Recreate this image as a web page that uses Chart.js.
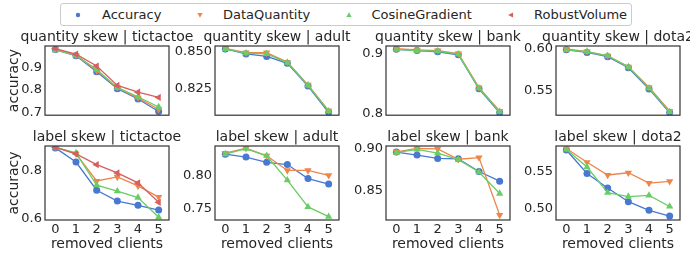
<!DOCTYPE html>
<html><head><meta charset="utf-8">
<script src="https://cdn.jsdelivr.net/npm/chart.js@4.4.1/dist/chart.umd.min.js"></script>
<style>
html,body{margin:0;padding:0;background:#fff;}
body{width:690px;height:253px;position:relative;overflow:hidden;font-family:"DejaVu Sans",sans-serif;}
canvas{position:absolute;}
#legend{position:absolute;left:60px;top:3px;width:572px;height:23px;border:1px solid #cccccc;border-radius:3px;box-sizing:border-box;}
.lt{position:absolute;font-size:13px;line-height:15px;color:#262626;white-space:nowrap;top:7px;}
#lsvg{position:absolute;left:0;top:0;}
</style></head>
<body>
<div id="legend"></div>
<svg id="lsvg" width="690" height="30"></svg>
<script>
// ---------------- data ----------------
const removedClients = ['0','1','2','3','4','5'];
const seriesNames = ['Accuracy','DataQuantity','CosineGradient','RobustVolume'];
const seriesColors = ['#4878d0','#ee854a','#6acc64','#d65f5f'];

// quantity skew
const qTicAccuracy       = [0.978,0.950,0.880,0.805,0.760,0.705];
const qTicDataQuantity   = [0.978,0.952,0.885,0.810,0.765,0.715];
const qTicCosineGradient = [0.975,0.952,0.890,0.810,0.770,0.725];
const qTicRobustVolume   = [0.982,0.957,0.905,0.820,0.790,0.767];
const qAdultAccuracy       = [0.8515,0.8482,0.8465,0.8420,0.8270,0.8095];
const qAdultDataQuantity   = [0.8518,0.8490,0.8490,0.8428,0.8278,0.8108];
const qAdultCosineGradient = [0.8515,0.8487,0.8482,0.8425,0.8275,0.8105];
const qBankAccuracy       = [0.907,0.905,0.903,0.898,0.841,0.801];
const qBankDataQuantity   = [0.908,0.906,0.905,0.900,0.843,0.804];
const qBankCosineGradient = [0.907,0.905,0.904,0.899,0.842,0.803];
const qDotaAccuracy       = [0.598,0.595,0.590,0.577,0.552,0.524];
const qDotaDataQuantity   = [0.599,0.596,0.591,0.578,0.554,0.526];
const qDotaCosineGradient = [0.598,0.596,0.591,0.578,0.553,0.525];
// label skew
const lTicAccuracy       = [0.898,0.838,0.719,0.673,0.655,0.635];
const lTicDataQuantity   = [0.902,0.873,0.758,0.775,0.737,0.690];
const lTicCosineGradient = [0.900,0.877,0.740,0.715,0.688,0.605];
const lTicRobustVolume   = [0.900,0.873,0.827,0.792,0.750,0.668];
const lAdultAccuracy       = [0.8335,0.8290,0.8210,0.8175,0.7960,0.7875];
const lAdultDataQuantity   = [0.8350,0.8425,0.8310,0.8085,0.8085,0.8010];
const lAdultCosineGradient = [0.8335,0.8420,0.8310,0.7935,0.7525,0.7375];
const lBankAccuracy       = [0.8961,0.8925,0.8885,0.8880,0.8727,0.8610];
const lBankDataQuantity   = [0.8965,0.9005,0.9000,0.8875,0.8895,0.8200];
const lBankCosineGradient = [0.8955,0.8995,0.8950,0.8870,0.8720,0.8460];
const lDotaAccuracy       = [0.5796,0.5478,0.5280,0.5095,0.4978,0.4900];
const lDotaDataQuantity   = [0.5815,0.5630,0.5457,0.5487,0.5348,0.5370];
const lDotaCosineGradient = [0.5804,0.5565,0.5217,0.5165,0.5180,0.5030];

// y tick values & labels
const yTicksQTic = [0.7,0.8,0.9],   yLabelsQTic = ['0.7','0.8','0.9'];
const yTicksQAdult = [0.825,0.850], yLabelsQAdult = ['0.825','0.850'];
const yTicksQBank = [0.8,0.9],      yLabelsQBank = ['0.8','0.9'];
const yTicksQDota = [0.55,0.60],    yLabelsQDota = ['0.55','0.60'];
const yTicksLTic = [0.6,0.8],       yLabelsLTic = ['0.6','0.8'];
const yTicksLAdult = [0.75,0.80],   yLabelsLAdult = ['0.75','0.80'];
const yTicksLBank = [0.85,0.90],    yLabelsLBank = ['0.85','0.90'];
const yTicksLDota = [0.50,0.55],    yLabelsLDota = ['0.50','0.55'];

// ---------------- layout ----------------
const colLefts = [45,215,386,556];
const PW = 124, WY = 45, T = 16;
const rowTops = [46,146], rowHeights = [76,74], rowXH = [4,33];
const TXT = '#262626';
const FONT = "'DejaVu Sans'";

const panels = [
  {row:0,col:0,title:'quantity skew | tictactoe',min:0.689,max:0.993,ticks:yTicksQTic,labels:yLabelsQTic,
   data:[qTicAccuracy,qTicDataQuantity,qTicCosineGradient,qTicRobustVolume]},
  {row:0,col:1,title:'quantity skew | adult',min:0.8078,max:0.8534,ticks:yTicksQAdult,labels:yLabelsQAdult,
   data:[qAdultAccuracy,qAdultDataQuantity,qAdultCosineGradient]},
  {row:0,col:2,title:'quantity skew | bank',min:0.797,max:0.9126,ticks:yTicksQBank,labels:yLabelsQBank,
   data:[qBankAccuracy,qBankDataQuantity,qBankCosineGradient]},
  {row:0,col:3,title:'quantity skew | dota2',min:0.5211,max:0.6025,ticks:yTicksQDota,labels:yLabelsQDota,
   data:[qDotaAccuracy,qDotaDataQuantity,qDotaCosineGradient]},
  {row:1,col:0,title:'label skew | tictactoe',min:0.593,max:0.906,ticks:yTicksLTic,labels:yLabelsLTic,
   data:[lTicAccuracy,lTicDataQuantity,lTicCosineGradient,lTicRobustVolume]},
  {row:1,col:1,title:'label skew | adult',min:0.7324,max:0.846,ticks:yTicksLAdult,labels:yLabelsLAdult,
   data:[lAdultAccuracy,lAdultDataQuantity,lAdultCosineGradient]},
  {row:1,col:2,title:'label skew | bank',min:0.814,max:0.9035,ticks:yTicksLBank,labels:yLabelsLBank,
   data:[lBankAccuracy,lBankDataQuantity,lBankCosineGradient]},
  {row:1,col:3,title:'label skew | dota2',min:0.4847,max:0.585,ticks:yTicksLDota,labels:yLabelsLDota,
   data:[lDotaAccuracy,lDotaDataQuantity,lDotaCosineGradient]},
];

const pointStyles = ['circle','triangle','triangle','triangle'];
const pointRots = [0,180,0,270];
const pointRadii = [3.5,4.2,4.2,4.2];

const framePlugin = {
  id:'frame',
  afterDatasetsDraw(chart){
    const {ctx, chartArea:a} = chart;
    ctx.save();
    ctx.strokeStyle = '#333333';
    ctx.lineWidth = 1.2;
    ctx.strokeRect(a.left, a.top, a.right-a.left, a.bottom-a.top);
    ctx.restore();
  }
};

panels.forEach(p => {
  const isBottom = p.row === 1;
  const c = document.createElement('canvas');
  const W = WY*2 + PW;
  const H = T + rowHeights[p.row] + rowXH[p.row];
  c.width = W; c.height = H;
  c.style.width = W+'px'; c.style.height = H+'px';
  c.style.left = (colLefts[p.col]-WY)+'px';
  c.style.top = (rowTops[p.row]-T)+'px';
  document.body.appendChild(c);

  const datasets = p.data.map((arr,i) => ({
    label: seriesNames[i],
    data: arr,
    borderColor: seriesColors[i],
    backgroundColor: seriesColors[i],
    pointBackgroundColor: seriesColors[i],
    pointBorderColor: seriesColors[i],
    pointBorderWidth: 0,
    borderWidth: 1.3,
    pointStyle: pointStyles[i],
    rotation: pointRots[i],
    pointRadius: pointRadii[i],
    tension: 0,
    order: 3 - i,
    clip: 0
  }));

  new Chart(c, {
    type:'line',
    data:{labels: removedClients, datasets},
    plugins:[framePlugin],
    options:{
      responsive:false, animation:false, devicePixelRatio:1,
      layout:{padding:0},
      plugins:{
        legend:{display:false}, tooltip:{enabled:false},
        title:{display:true,text:p.title,color:TXT,font:{family:FONT,size:14,weight:'normal',lineHeight:1.1},padding:{top:0,bottom:0.6}}
      },
      scales:{
        x:{
          type:'category', offset:true,
          grid:{display:false,drawTicks:false}, border:{display:false},
          ticks:{display:isBottom,color:TXT,font:{family:FONT,size:13},padding:2,maxRotation:0},
          title:{display:isBottom,text:'removed clients',color:TXT,font:{family:FONT,size:14,lineHeight:1.2},padding:{top:0,bottom:0.5}},
          afterFit: s => { s.height = rowXH[p.row]; }
        },
        y:{
          type:'linear', position:'left', min:p.min, max:p.max,
          grid:{display:false,drawTicks:false}, border:{display:false},
          afterBuildTicks: s => { s.ticks = p.ticks.map(v => ({value:v})); },
          ticks:{color:TXT,font:{family:FONT,size:13},padding:3,callback:(v,i)=>p.labels[i]},
          title:{display:p.col===0,text:'accuracy',color:TXT,font:{family:FONT,size:14,lineHeight:1.2},padding:{top:6,bottom:0}},
          afterFit: s => { s.width = WY; }
        },
        y2:{
          type:'linear', position:'right', min:0, max:1,
          grid:{display:false,drawTicks:false}, border:{display:false},
          ticks:{display:false},
          afterFit: s => { s.width = WY; }
        }
      }
    }
  });
});

// ---------------- legend ----------------
const legendMarkerX = [78,200,349,511];
const legendTextX = [102,223,371.5,534];
const svg = document.getElementById('lsvg');
const ns = 'http://www.w3.org/2000/svg';
const my = 15;
seriesNames.forEach((name,i) => {
  let el;
  const x = legendMarkerX[i];
  if (i === 0) {
    el = document.createElementNS(ns,'circle');
    el.setAttribute('cx',x); el.setAttribute('cy',my); el.setAttribute('r',2.2);
  } else {
    el = document.createElementNS(ns,'polygon');
    const r = 2.6;
    let pts;
    if (i === 1) pts = [[x-r,my-r*0.8],[x+r,my-r*0.8],[x,my+r*1.1]];
    else if (i === 2) pts = [[x-r,my+r*0.8],[x+r,my+r*0.8],[x,my-r*1.1]];
    else pts = [[x+r*0.8,my-r],[x+r*0.8,my+r],[x-r*1.1,my]];
    el.setAttribute('points', pts.map(q=>q.join(',')).join(' '));
  }
  el.setAttribute('fill', seriesColors[i]);
  svg.appendChild(el);
  const t = document.createElement('span');
  t.className = 'lt';
  t.style.left = legendTextX[i]+'px';
  t.textContent = name;
  document.body.appendChild(t);
});
</script>
</body></html>
